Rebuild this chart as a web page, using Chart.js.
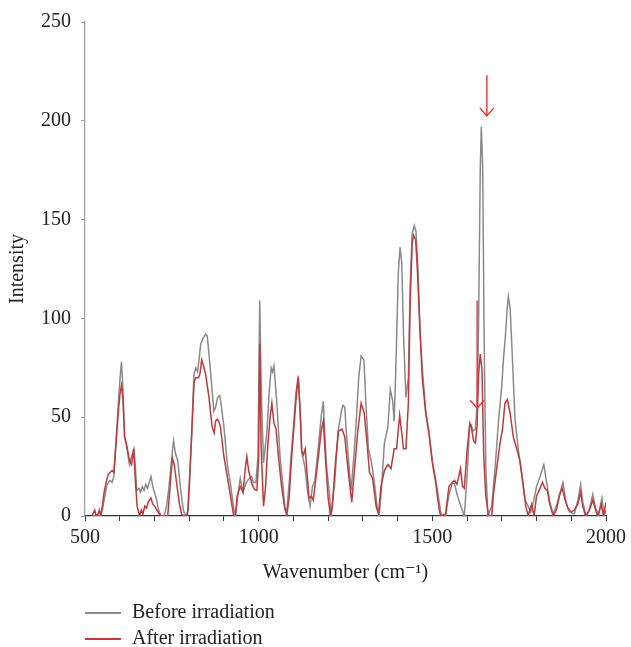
<!DOCTYPE html>
<html>
<head>
<meta charset="utf-8">
<script src="https://cdn.jsdelivr.net/npm/chart.js@4.4.1/dist/chart.umd.min.js"></script>
<style>
    html, body { margin: 0; padding: 0; background: #fff; }
    #wrap { position: relative; width: 631px; height: 647px; }
    #legend {
        position: absolute; left: 85px; top: 598px;
        font-family: "Liberation Serif", "DejaVu Serif", serif;
        font-size: 20px; color: #222;
    }
    .item { height: 26px; line-height: 26px; white-space: nowrap; }
    .swatch { display: inline-block; width: 36px; height: 2px; vertical-align: middle;
              margin-right: 11px; }
</style>
</head>
<body>
<div id="wrap">
    <canvas id="spectrumChart" width="631" height="647"></canvas>
    <div id="legend">
        <div class="item"><span class="swatch" style="background:#8a8a8a"></span>Before irradiation</div>
        <div class="item"><span class="swatch" style="background:#c0393b"></span>After irradiation</div>
    </div>
</div>
<script>
// Wavenumber (cm-1) and intensity
const beforeWn = [520, 545, 550, 557, 562, 567, 572, 578, 583, 590, 597, 601, 605, 609, 614, 620, 628, 634, 641, 645,
    649, 655, 660, 665, 670, 675, 680, 685, 690, 695, 700, 705, 712, 719, 728, 735, 742, 750, 755, 760,
    767, 775, 783, 790, 797, 803, 810, 814, 819, 824, 829, 833, 840, 847, 852, 858, 862, 871, 876, 882,
    888, 893, 900, 910, 919, 928, 933, 942, 947, 955, 964, 973, 980, 985, 992, 998, 1003, 1008, 1014, 1024,
    1030, 1036, 1040, 1044, 1052, 1062, 1071, 1076, 1081, 1088, 1093, 1100, 1107, 1114, 1120, 1124, 1133, 1141, 1148, 1155,
    1162, 1172, 1180, 1186, 1195, 1205, 1209, 1219, 1228, 1238, 1243, 1248, 1252, 1262, 1266, 1274, 1281, 1288, 1295, 1303,
    1309, 1316, 1324, 1333, 1341, 1347, 1352, 1362, 1372, 1379, 1386, 1390, 1395, 1402, 1407, 1412, 1417, 1424, 1431, 1436,
    1442, 1448, 1453, 1459, 1465, 1471, 1481, 1490, 1500, 1510, 1519, 1526, 1538, 1548, 1557, 1564, 1571, 1581, 1592, 1600,
    1607, 1612, 1617, 1624, 1629, 1633, 1638, 1641, 1645, 1649, 1654, 1660, 1671, 1681, 1690, 1700, 1705, 1710, 1715, 1719,
    1724, 1729, 1738, 1748, 1757, 1767, 1776, 1783, 1790, 1800, 1810, 1821, 1829, 1838, 1848, 1857, 1868, 1876, 1886, 1895,
    1909, 1919, 1927, 1933, 1943, 1950, 1962, 1970, 1979, 1988, 1995, 2000];
const beforeVal = [0, 0, 3, 10, 15, 17, 18, 17, 20, 40, 60, 70, 78, 65, 40, 35, 26, 30, 34, 25,
    13, 14, 12, 15, 13, 16, 14, 17, 20, 15, 12, 9, 3, 0, 0, 5, 15, 30, 38, 32,
    28, 14, 3, 0, 3, 25, 55, 72, 75, 73, 80, 87, 90, 92, 91, 80, 72, 53, 55, 60,
    61, 55, 45, 26, 16, 4, 0, 13, 19, 12, 17, 19, 20, 17, 17, 30, 109, 60, 27, 43,
    62, 75, 73, 76, 58, 29, 13.5, 3, 3, 17, 30, 45, 62, 71, 50, 32, 25, 12, 5, 15,
    18, 35, 50, 58, 26, 9, 0, 17, 42, 53, 56, 55, 43, 21, 13, 30, 48, 70, 81, 79,
    56, 34, 28, 17, 5, 0, 10, 37, 45, 64, 58, 48, 75, 123, 136, 128, 92, 60, 70, 116,
    143, 147, 144, 124, 92, 75, 53, 43, 28, 18, 8, 0, 0, 11, 16.5, 16.5, 11, 5.5, 0, 20,
    45, 46, 43, 44, 57, 95, 176, 197, 176, 92, 25, 0, 5, 25, 47, 66, 80, 90, 104, 111,
    105, 86, 49, 33, 22, 8, 5, 2, 6, 15, 20, 26, 17, 7, 1, 5, 12, 17, 6, 2,
    1, 8, 16, 7, 0, 2, 11, 4, 0, 9, 0, 3];

const afterWn = [520, 528, 532, 538, 541, 545, 550, 555, 562, 567, 572, 578, 583, 590, 597, 601, 605, 609, 614, 620,
    628, 634, 640, 645, 650, 657, 662, 667, 672, 677, 682, 690, 695, 700, 707, 714, 719, 738, 742, 748,
    752, 757, 765, 772, 778, 785, 795, 800, 807, 814, 819, 827, 831, 836, 841, 847, 857, 866, 872, 876,
    881, 885, 890, 900, 914, 928, 933, 938, 947, 955, 962, 966, 971, 981, 988, 995, 1000, 1003, 1007, 1014,
    1020, 1026, 1033, 1038, 1044, 1050, 1057, 1066, 1074, 1081, 1088, 1095, 1102, 1109, 1114, 1119, 1124, 1129, 1134, 1141,
    1145, 1152, 1157, 1162, 1172, 1180, 1186, 1192, 1200, 1207, 1212, 1221, 1230, 1240, 1248, 1257, 1268, 1276, 1286, 1295,
    1304, 1312, 1319, 1328, 1338, 1345, 1352, 1362, 1372, 1381, 1390, 1397, 1406, 1412, 1417, 1424, 1431, 1436, 1442, 1446,
    1452, 1457, 1465, 1471, 1481, 1490, 1500, 1510, 1519, 1524, 1538, 1548, 1557, 1564, 1571, 1581, 1587, 1592, 1600, 1608,
    1612, 1619, 1624, 1629, 1633, 1638, 1643, 1648, 1654, 1662, 1671, 1676, 1681, 1686, 1695, 1702, 1709, 1716, 1724, 1733,
    1743, 1752, 1762, 1769, 1776, 1786, 1793, 1800, 1810, 1817, 1824, 1831, 1838, 1848, 1857, 1867, 1874, 1881, 1890, 1900,
    1909, 1919, 1927, 1933, 1941, 1952, 1962, 1970, 1976, 1986, 1993, 2000];
const afterVal = [0, 3, 0, 1, 3, 0, 5, 12, 18, 21, 22, 23, 22, 38, 55, 62, 66, 60, 40, 36,
    28, 26, 34, 18, 5, 0, 3, 1, 5, 4, 7, 9, 6, 5, 3, 1, 0, 0, 8, 22,
    29, 26, 15, 6, 1, 0, 0, 15, 40, 68, 70, 70, 72, 79, 76, 72, 60, 45, 42, 48,
    49, 48, 45, 30, 15.5, 0, 0, 10, 15, 12, 25, 30, 23, 16, 13.5, 13, 30, 87, 35, 5,
    15, 35, 50, 57, 47, 44, 30, 15, 5, 0, 10, 30, 46, 62, 70, 55, 33, 31, 34, 18,
    9, 10, 8, 15, 30, 43, 48, 30, 9, 0, 5, 27, 43, 44, 40, 24, 7, 24, 44, 57,
    52, 37, 22, 19, 5, 1, 15, 23, 26, 24, 34, 34, 51, 42, 34, 34, 57, 107, 138, 142,
    140, 124, 92, 70, 52, 42, 27, 16.5, 4, 0, 1, 15, 17, 18, 16, 24, 15, 14, 33, 47,
    45, 38, 37, 46, 71, 82, 74, 30, 10, 0, 0, 11, 18, 25, 37, 44, 57, 59, 52, 40,
    34, 28, 15, 5, 0, 6, 0, 10, 14, 17, 14, 13, 6, 0, 3, 11, 14, 9, 4, 2,
    3, 6, 12, 5, 0, 3, 8, 3, 0, 6, 0, 7];

// Red arrows marking the band at ~1650 cm-1: [wavenumber, from, to]
const arrows = [[1657, 223, 202.5], [1629, 109, 54.5]];

const serif = '"Liberation Serif", "DejaVu Serif", serif';

function toPoints(xs, ys) {
    return xs.map((x, i) => ({ x: x, y: ys[i] }));
}

/* =====================
   Arrow annotations
   ===================== */
const arrowPlugin = {
    id: 'arrows',
    afterDatasetsDraw(chart) {
        const ctx = chart.ctx;
        const xs = chart.scales.x, ys = chart.scales.y;
        ctx.save();
        ctx.strokeStyle = '#f03434';
        ctx.lineWidth = 1.4;
        arrows.forEach(a => {
            const px = xs.getPixelForValue(a[0]);
            const y0 = ys.getPixelForValue(a[1]);
            const y1 = ys.getPixelForValue(a[2]);
            ctx.beginPath();
            ctx.moveTo(px, y0);
            ctx.lineTo(px, y1);
            ctx.moveTo(px - 7, y1 - 8);
            ctx.lineTo(px, y1);
            ctx.lineTo(px + 7, y1 - 8);
            ctx.stroke();
        });
        ctx.restore();
    }
};

const ctx = document.getElementById('spectrumChart');
new Chart(ctx, {
    type: 'line',
    data: {
        datasets: [{
            label: 'Before irradiation',
            data: toPoints(beforeWn, beforeVal),
            borderColor: '#8a8a8a',
            borderWidth: 1.5,
            order: 2
        }, {
            label: 'After irradiation',
            data: toPoints(afterWn, afterVal),
            borderColor: '#c0393b',
            borderWidth: 1.5,
            order: 1
        }]
    },
    options: {
        responsive: false,
        animation: false,
        parsing: false,
        elements: {
            point: { radius: 0 },
            line: { tension: 0 }
        },
        layout: { padding: { top: 21, right: 18, left: 0, bottom: 58 } },
        plugins: {
            legend: { display: false },
            tooltip: { enabled: false }
        },
        scales: {
            x: {
                type: 'linear',
                min: 500,
                max: 2000,
                afterFit: (s) => { s.height = 73; },
                border: { color: '#333', width: 1.3 },
                grid: { drawOnChartArea: false, drawTicks: true, tickLength: 5, color: '#333' },
                ticks: {
                    stepSize: 100,
                    autoSkip: false,
                    maxRotation: 0,
                    padding: 5,
                    color: '#222',
                    font: { family: serif, size: 20 },
                    callback: (v) => (v % 500 === 0 ? v : '')
                },
                title: {
                    display: true,
                    text: 'Wavenumber (cm\u207B\u00B9)',
                    color: '#222',
                    font: { family: serif, size: 20 },
                    padding: { top: 7 }
                }
            },
            y: {
                min: 0,
                max: 250,
                afterFit: (s) => { s.width = 85; },
                border: { color: '#a0a0a0', width: 1.3 },
                grid: { drawOnChartArea: false, drawTicks: true, tickLength: 4, color: '#a0a0a0' },
                ticks: {
                    stepSize: 50,
                    padding: 10,
                    color: '#222',
                    font: { family: serif, size: 20 }
                },
                title: {
                    display: true,
                    text: 'Intensity',
                    color: '#222',
                    font: { family: serif, size: 20 },
                    padding: { top: 6, bottom: 0 }
                }
            }
        }
    },
    plugins: [arrowPlugin]
});
</script>
</body>
</html>
